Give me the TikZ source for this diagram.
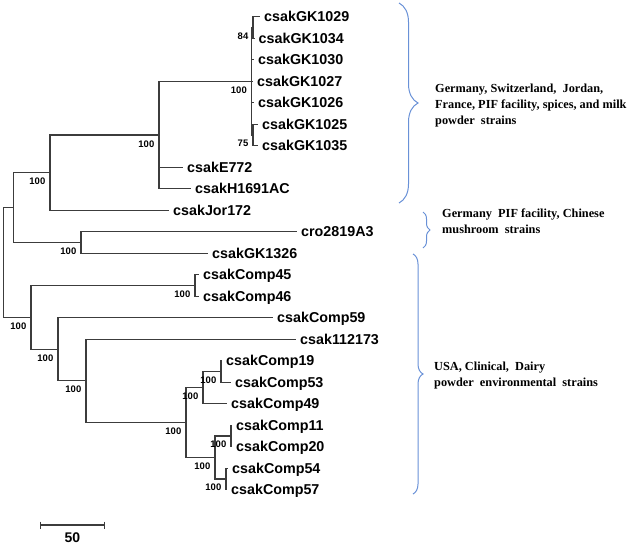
\documentclass[tikz,border=0pt]{standalone}
\usepackage{fontspec}
\setmainfont{Liberation Sans}
\newfontfamily\grpfont{Liberation Serif}
\usetikzlibrary{decorations.pathreplacing}
\definecolor{treegray}{RGB}{60,60,60}
\definecolor{braceblue}{RGB}{105,145,215}
\begin{document}
\begin{tikzpicture}[x=1pt,y=-1pt,
  branch/.style={draw=treegray,line width=1.1pt},
  leaf/.style={anchor=west,inner xsep=4pt,inner ysep=0pt,text height=10.2pt,text depth=0pt,font=\bfseries\fontsize{14.3}{16}\selectfont},
  boot/.style={anchor=north east,inner sep=0pt,text height=6.8pt,text depth=0pt,xshift=-4.5pt,yshift=-5pt,font=\bfseries\fontsize{9.5}{11}\selectfont},
  grp/.style={anchor=north west,inner sep=0pt,align=left,font=\grpfont\bfseries\fontsize{12.3}{16.2}\selectfont},
  clade/.style={draw=braceblue,line width=1pt,decorate,decoration={brace,amplitude=#1}}
]
\useasboundingbox (0,0) rectangle (638,544);
% leaves
\node[leaf] (GK1029) at (260,16.7) {csakGK1029};
\node[leaf] (GK1034) at (254.5,38.2) {csakGK1034};
\node[leaf] (GK1030) at (254,59.7) {csakGK1030};
\node[leaf] (GK1027) at (253,81.2) {csakGK1027};
\node[leaf] (GK1026) at (254,102.7) {csakGK1026};
\node[leaf] (GK1025) at (258,124.2) {csakGK1025};
\node[leaf] (GK1035) at (258,145.7) {csakGK1035};
\node[leaf] (E772) at (183,167.2) {csakE772};
\node[leaf] (H1691AC) at (191,188.7) {csakH1691AC};
\node[leaf] (Jor172) at (169,210.2) {csakJor172};
\node[leaf] (cro) at (297,231.7) {cro2819A3};
\node[leaf] (GK1326) at (208,253.2) {csakGK1326};
\node[leaf] (C45) at (199,274.7) {csakComp45};
\node[leaf] (C46) at (199,296.2) {csakComp46};
\node[leaf] (C59) at (273,317.7) {csakComp59};
\node[leaf] (k112173) at (296,339.2) {csak112173};
\node[leaf] (C19) at (222,360.7) {csakComp19};
\node[leaf] (C53) at (231,382.2) {csakComp53};
\node[leaf] (C49) at (227,403.7) {csakComp49};
\node[leaf] (C11) at (232,425.2) {csakComp11};
\node[leaf] (C20) at (232,446.7) {csakComp20};
\node[leaf] (C54) at (228,468.2) {csakComp54};
\node[leaf] (C57) at (227,489.7) {csakComp57};
% internal nodes
\coordinate (root) at (3.5,262.4);
\coordinate (nA) at (13.5,207.5);
\coordinate (nJ) at (50,172.6);
\coordinate (nE) at (159,135);
\coordinate (nGK) at (251.5,81.2);
\coordinate (n84) at (253,27.45);
\coordinate (n75) at (253,134.95);
\coordinate (nC) at (81,242.45);
\coordinate (nB) at (31,317.4);
\coordinate (n45) at (195,285.45);
\coordinate (nD) at (58,349.3);
\coordinate (nF) at (86,380.85);
\coordinate (nG) at (186,422.5);
\coordinate (nH) at (203,387.6);
\coordinate (n19) at (221,371.45);
\coordinate (nI) at (215,457.45);
\coordinate (n11) at (231,435.95);
\coordinate (n54) at (226,478.95);
% branches
\draw[branch] (root) |- (nA);
\draw[branch] (root) |- (nB);
\draw[branch] (nA) |- (nJ);
\draw[branch] (nA) |- (nC);
\draw[branch] (nJ) |- (nE);
\draw[branch] (nJ) |- (Jor172.west);
\draw[branch] (nE) |- (nGK);
\draw[branch] (nE) |- (E772.west);
\draw[branch] (nE) |- (H1691AC.west);
\draw[branch] (nGK) |- (n84);
\draw[branch] (nGK) |- (GK1030.west);
\draw[branch] (nGK) |- (GK1027.west);
\draw[branch] (nGK) |- (GK1026.west);
\draw[branch] (nGK) |- (n75);
\draw[branch] (n84) |- (GK1029.west);
\draw[branch] (n84) |- (GK1034.west);
\draw[branch] (n75) |- (GK1025.west);
\draw[branch] (n75) |- (GK1035.west);
\draw[branch] (nC) |- (cro.west);
\draw[branch] (nC) |- (GK1326.west);
\draw[branch] (nB) |- (n45);
\draw[branch] (nB) |- (nD);
\draw[branch] (n45) |- (C45.west);
\draw[branch] (n45) |- (C46.west);
\draw[branch] (nD) |- (C59.west);
\draw[branch] (nD) |- (nF);
\draw[branch] (nF) |- (k112173.west);
\draw[branch] (nF) |- (nG);
\draw[branch] (nG) |- (nH);
\draw[branch] (nG) |- (nI);
\draw[branch] (nH) |- (n19);
\draw[branch] (nH) |- (C49.west);
\draw[branch] (n19) |- (C19.west);
\draw[branch] (n19) |- (C53.west);
\draw[branch] (nI) |- (n11);
\draw[branch] (nI) |- (n54);
\draw[branch] (n11) |- (C11.west);
\draw[branch] (n11) |- (C20.west);
\draw[branch] (n54) |- (C54.west);
\draw[branch] (n54) |- (C57.west);
% bootstrap values
\node[boot] (bJ) at (nJ) {100};
\node[boot] (bE) at (nE) {100};
\node[boot] (bGK) at (nGK) {100};
\node[boot] (b84) at (n84) {84};
\node[boot] (b75) at (n75) {75};
\node[boot] (bC) at (nC) {100};
\node[boot] (bB) at (nB) {100};
\node[boot] (b45) at (n45) {100};
\node[boot] (bD) at (nD) {100};
\node[boot] (bF) at (nF) {100};
\node[boot] (bG) at (nG) {100};
\node[boot] (bH) at (nH) {100};
\node[boot] (b19) at (n19) {100};
\node[boot] (bI) at (nI) {100};
\node[boot] (b11) at (n11) {100};
\node[boot] (b54) at (n54) {100};
% scale bar
\coordinate (s1) at (40.7,525);
\coordinate (s2) at (104.3,525);
\draw[branch] (s1) -- (s2);
\draw[branch] ([yshift=3.5pt]s1) -- ([yshift=-3.5pt]s1);
\draw[branch] ([yshift=3.5pt]s2) -- ([yshift=-3.5pt]s2);
\node[inner sep=0pt,text height=10.2pt,text depth=0pt,font=\bfseries\fontsize{14}{16}\selectfont] (scale) at (72.5,537) {50};
% clade braces
\draw[clade=19pt] (399,3) -- (399,203);
\draw[clade=7pt] (423,212) -- (423,248);
\draw[clade=10pt] (413,254) -- (413,494);
% group texts
\node[grp] (g1) at (435,83.6) {Germany, Switzerland,\ \ Jordan,\\France, PIF facility, spices, and milk\\powder\ \ strains};
\node[grp] (g2) at (442,208.3) {Germany\ \ PIF facility, Chinese\\mushroom\ \ strains};
\node[grp] (g3) at (434,361.6) {USA, Clinical,\ \ Dairy\\powder\ \ environmental\ \ strains};
\end{tikzpicture}
\end{document}
